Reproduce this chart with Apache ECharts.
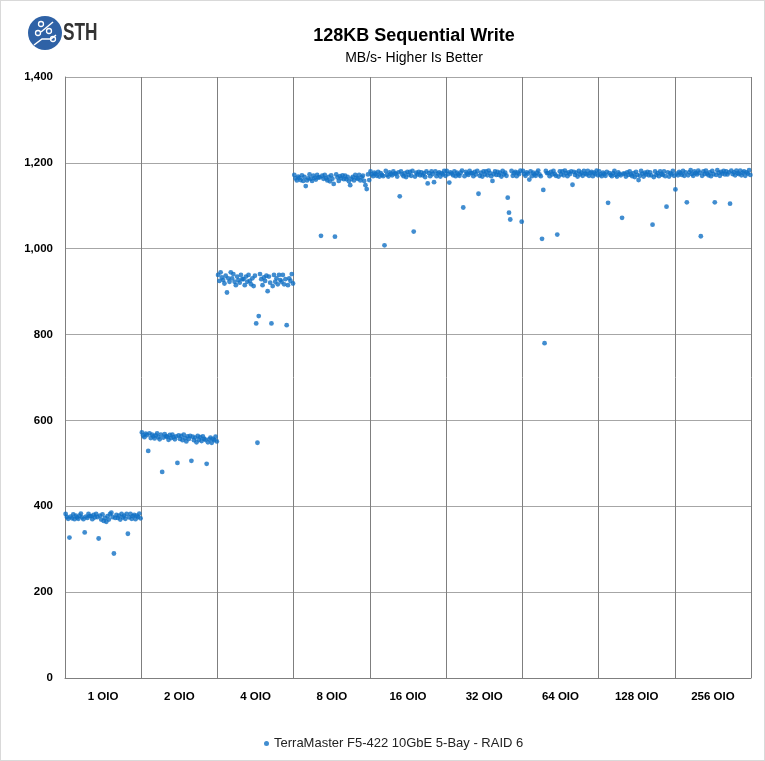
<!DOCTYPE html>
<html>
<head>
<meta charset="utf-8">
<script src="https://cdn.jsdelivr.net/npm/echarts@6/dist/echarts.min.js"></script>
<style>
  html, body { margin: 0; padding: 0; background: #fff; }
  #chart { width: 765px; height: 761px; box-sizing: border-box; border: 1px solid #d9d9d9; }
</style>
</head>
<body>
<div id="chart"></div>
<script>
const categories = ["1 OIO", "2 OIO", "4 OIO", "8 OIO", "16 OIO", "32 OIO", "64 OIO", "128 OIO", "256 OIO"];
const perGroup = 60;
const seriesName = "TerraMaster F5-422 10GbE 5-Bay - RAID 6";

// MB/s samples per queue depth, in time order
const oio1 = [
  382,375,371,327,376,372,381,370,378,374,
  371,378,383,374,370,339,376,373,382,377,
  377,370,380,374,382,375,325,378,369,381,
  366,373,364,377,369,382,385,375,290,373,
  380,373,378,369,382,374,378,371,382,336,
  374,382,371,377,380,370,378,375,383,372
];
const oio2 = [
  572,565,561,569,566,529,570,559,567,563,
  558,565,570,561,556,567,480,560,568,563,
  562,555,566,559,567,561,556,563,501,565,
  557,564,554,567,559,551,563,557,564,506,
  562,554,560,549,564,555,561,552,563,557,
  555,499,549,556,560,548,557,554,562,551
];
const oio4 = [
  939,925,945,933,927,919,937,898,931,923,
  945,931,941,923,915,935,927,921,939,929,
  929,915,935,923,939,925,917,931,913,937,
  826,548,843,941,929,915,933,925,937,901,
  935,921,826,913,939,923,931,917,939,927,
  923,939,917,929,822,915,931,925,941,919
];
const oio8 = [
  1172,1164,1159,1168,1165,1160,1171,1158,1167,1146,
  1159,1164,1173,1163,1158,1170,1165,1161,1172,1166,
  1166,1030,1170,1163,1172,1164,1159,1167,1157,1171,
  1163,1151,1028,1173,1166,1158,1169,1164,1171,1162,
  1170,1162,1167,1157,1148,1163,1167,1159,1172,1165,
  1163,1172,1159,1166,1170,1158,1148,1139,1173,1160
];
const oio16 = [
  1180,1173,1169,1177,1174,1170,1179,1168,1176,1172,
  1169,1008,1181,1172,1168,1178,1174,1171,1180,1175,
  1175,1168,1178,1122,1180,1173,1169,1176,1167,1179,
  1172,1179,1170,1181,1040,1168,1177,1173,1179,1171,
  1178,1171,1176,1167,1180,1152,1176,1169,1180,1174,
  1155,1180,1169,1175,1178,1168,1176,1173,1181,1170
];
const oio32 = [
  1181,1174,1154,1178,1175,1171,1180,1169,1177,1173,
  1170,1177,1182,1096,1169,1179,1175,1172,1181,1176,
  1176,1169,1179,1173,1181,1128,1170,1177,1168,1180,
  1173,1180,1171,1182,1176,1169,1158,1174,1180,1172,
  1179,1172,1177,1168,1181,1173,1177,1170,1119,1084,
  1068,1181,1170,1176,1179,1169,1177,1174,1182,1063
];
const oio64 = [
  1181,1174,1170,1178,1175,1161,1180,1169,1177,1173,
  1170,1177,1182,1173,1169,1023,1137,780,1181,1176,
  1176,1169,1179,1173,1181,1174,1170,1033,1168,1180,
  1173,1180,1171,1182,1176,1169,1178,1174,1180,1149,
  1179,1172,1177,1168,1181,1173,1177,1170,1181,1175,
  1173,1181,1170,1176,1179,1169,1177,1174,1182,1171
];
const oio128 = [
  1180,1173,1169,1177,1174,1170,1179,1107,1176,1172,
  1169,1176,1181,1172,1168,1178,1174,1171,1072,1175,
  1175,1168,1178,1172,1180,1173,1169,1176,1167,1179,
  1172,1160,1170,1181,1175,1168,1177,1173,1179,1171,
  1178,1171,1056,1167,1180,1172,1176,1169,1180,1174,
  1172,1180,1169,1098,1178,1168,1176,1173,1181,1170
];
const oio256 = [
  1138,1175,1171,1179,1176,1172,1181,1170,1178,1108,
  1171,1178,1183,1174,1170,1180,1176,1173,1182,1177,
  1029,1170,1180,1174,1182,1175,1171,1178,1169,1181,
  1174,1108,1172,1183,1177,1170,1179,1175,1181,1173,
  1180,1173,1178,1105,1182,1174,1178,1171,1182,1176,
  1174,1182,1171,1177,1180,1170,1178,1175,1183,1172
];

const groups = [oio1, oio2, oio4, oio8, oio16, oio32, oio64, oio128, oio256];
const points = [];
groups.forEach((vals, g) => {
  vals.forEach((v, i) => points.push([g * perGroup + i + 0.5, v]));
});

const font = "'Liberation Sans', Arial, sans-serif";
const chart = echarts.init(document.getElementById("chart"));

const option = {
  animation: false,
  textStyle: { fontFamily: font },
  title: [
    {
      text: "128KB Sequential Write",
      left: 408, top: 21, textAlign: "center",
      textStyle: { fontSize: 18, fontWeight: "bold", color: "#000", fontFamily: font }
    },
    {
      text: "MB/s- Higher Is Better",
      left: 408, top: 45, textAlign: "center",
      textStyle: { fontSize: 14, fontWeight: "normal", color: "#000", fontFamily: font }
    }
  ],
  graphic: [
    { type: "circle", shape: { cx: 44, cy: 32, r: 17 }, style: { fill: "#2f62a6" } },
    { type: "polyline", shape: { points: [[33, 44], [41, 38], [50, 38], [55, 34]] }, style: { stroke: "#fff", lineWidth: 1.5, fill: null } },
    { type: "polyline", shape: { points: [[40, 31], [52, 21]] }, style: { stroke: "#fff", lineWidth: 1.5, fill: null } },
    { type: "circle", shape: { cx: 40, cy: 23, r: 2.5 }, style: { fill: "none", stroke: "#fff", lineWidth: 1.3 } },
    { type: "circle", shape: { cx: 37, cy: 32, r: 2.5 }, style: { fill: "none", stroke: "#fff", lineWidth: 1.3 } },
    { type: "circle", shape: { cx: 48, cy: 30, r: 2.5 }, style: { fill: "none", stroke: "#fff", lineWidth: 1.3 } },
    { type: "circle", shape: { cx: 52, cy: 38, r: 2.5 }, style: { fill: "none", stroke: "#fff", lineWidth: 1.3 } },
    {
      type: "text", x: 62, y: 20, scaleX: 0.72,
      style: { text: "STH", font: "bold 24px 'Liberation Sans', sans-serif", fill: "#333" }
    }
  ],
  legend: {
    data: [seriesName],
    left: 258, top: 731,
    icon: "circle", itemWidth: 5, itemHeight: 5,
    textStyle: { fontSize: 13, color: "#222", fontFamily: font }
  },
  grid: { left: 64, right: 13, top: 76, bottom: 82, containLabel: false },
  xAxis: [
    {
      type: "value", min: 0, max: perGroup * categories.length, interval: perGroup,
      axisLabel: { show: false }, axisTick: { show: false },
      axisLine: { show: true, lineStyle: { color: "#7f7f7f" } },
      splitLine: { show: true, lineStyle: { color: "#7f7f7f", width: 1 } }
    },
    {
      type: "category", data: categories, position: "bottom", boundaryGap: true,
      axisLine: { show: false }, axisTick: { show: false }, splitLine: { show: false },
      axisLabel: { margin: 13, fontSize: 11.5, fontWeight: "bold", color: "#000", fontFamily: font }
    }
  ],
  yAxis: {
    type: "value", min: 0, max: 1400, interval: 200,
    axisLine: { show: true, lineStyle: { color: "#7f7f7f" } },
    axisTick: { show: false },
    axisLabel: {
      margin: 12, fontSize: 11.5, fontWeight: "bold", color: "#000", fontFamily: font,
      formatter: v => v.toLocaleString("en-US")
    },
    splitLine: { lineStyle: { color: "#a6a6a6" } }
  },
  series: [
    {
      name: seriesName, type: "scatter", xAxisIndex: 0,
      symbol: "circle", symbolSize: 4.8,
      itemStyle: { color: "#1170c4" },
      data: points
    }
  ]
};
chart.setOption(option);
</script>
</body>
</html>
